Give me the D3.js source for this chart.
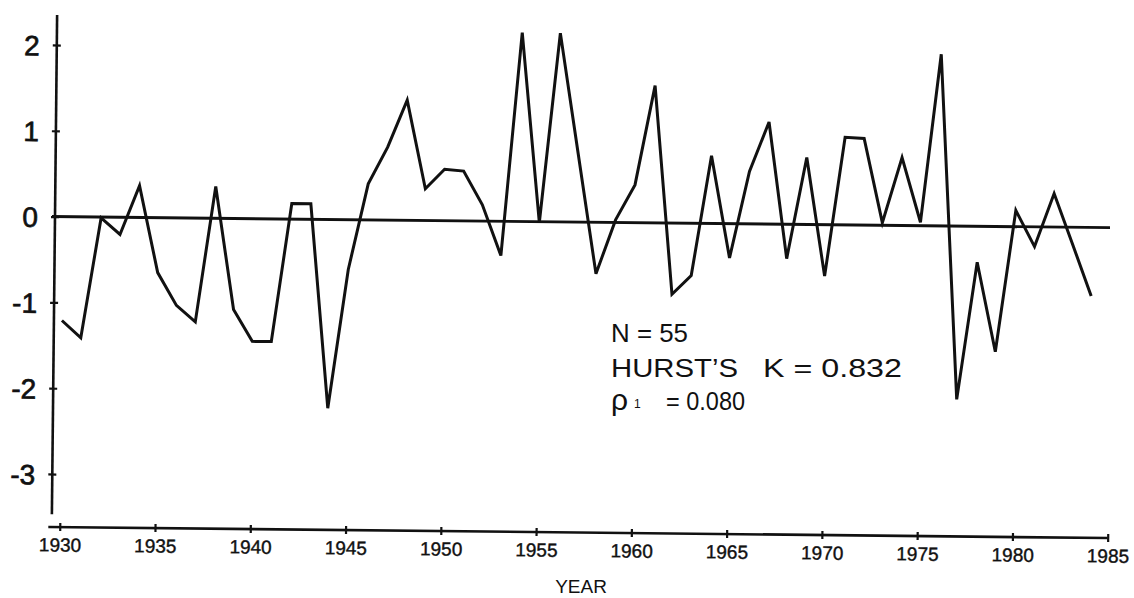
<!DOCTYPE html>
<html>
<head>
<meta charset="utf-8">
<script src="https://cdn.jsdelivr.net/npm/d3@7"></script>
<style>
  html, body { margin: 0; padding: 0; background: #fff; }
  svg { display: block; }
  text { font-family: "Liberation Sans", Arial, sans-serif; fill: #111; }
</style>
</head>
<body>
<svg id="chart" width="1134" height="598"></svg>
<script>
// Annual standardized series, 1930-1984
const years = [
  1930, 1931, 1932, 1933, 1934, 1935, 1936, 1937, 1938, 1939,
  1940, 1941, 1942, 1943, 1944, 1945, 1946, 1947, 1948, 1949,
  1950, 1951, 1952, 1953, 1954, 1955, 1956, 1957, 1958, 1959,
  1960, 1961, 1962, 1963, 1964, 1965, 1966, 1967, 1968, 1969,
  1970, 1971, 1972, 1973, 1974, 1975, 1976, 1977, 1978, 1979,
  1980, 1981, 1982, 1983, 1984
];
const values = [
  -1.21, -1.41, -0.01, -0.20, 0.37, -0.64, -1.02, -1.21, 0.37, -1.06,
  -1.43, -1.43, 0.18, 0.18, -2.20, -0.58, 0.42, 0.85, 1.40, 0.37,
  0.60, 0.58, 0.19, -0.40, 2.20, -0.01, 2.20, 0.80, -0.60, 0.03,
  0.44, 1.60, -0.83, -0.61, 0.79, -0.40, 0.61, 1.19, -0.40, 0.78,
  -0.60, 1.02, 1.01, 0.03, 0.79, 0.04, 2.00, -2.02, -0.42, -1.46,
  0.19, -0.23, 0.39, -0.20, -0.80
];
const yTickValues = [-3, -2, -1, 0, 1, 2];
const xTickValues = [1930, 1935, 1940, 1945, 1950, 1955, 1960, 1965, 1970, 1975, 1980, 1985];
const statLabels = ["N = 55", "HURST\u2019S", "K = 0.832", "= 0.080"];

const svg = d3.select("#chart");

const x = d3.scaleLinear().domain([1930, 1985]).range([63, 1111]);
const y = d3.scaleLinear().domain([-3, 2]).range([474, 45]);
const axisX = 55;        // position of the vertical axis
const axisY = 527;       // position of the horizontal axis

// the plotted sheet sits very slightly turned
const plot = svg.append("g").attr("transform", "rotate(0.6, 55, 217)");

// vertical axis
plot.append("line")
  .attr("x1", axisX).attr("x2", axisX)
  .attr("y1", y(2.35)).attr("y2", y(-3.47))
  .attr("stroke", "#111").attr("stroke-width", 2.6);

const yAxis = plot.append("g")
  .attr("transform", `translate(${axisX},0)`)
  .call(d3.axisLeft(y).tickValues(yTickValues).tickFormat(d3.format("d")).tickSize(4));
yAxis.select(".domain").remove();
yAxis.selectAll(".tick line").attr("x1", -4).attr("x2", 4)
  .attr("stroke", "#111").attr("stroke-width", 2.2);
yAxis.selectAll(".tick text")
  .attr("x", -17).attr("dy", "0.36em")
  .style("font-size", "28px").style("font-family", "'Liberation Sans', Arial, sans-serif")
  .attr("fill", "#111").attr("stroke", "#111").attr("stroke-width", 0.7)
  .text(d => d < 0 ? "-" + Math.abs(d) : d);

// horizontal axis
plot.append("line")
  .attr("x1", x(1929.4)).attr("x2", x(1985))
  .attr("y1", axisY).attr("y2", axisY)
  .attr("stroke", "#111").attr("stroke-width", 2.6);

const xAxis = plot.append("g")
  .attr("transform", `translate(0,${axisY})`)
  .call(d3.axisBottom(x).tickValues(xTickValues).tickFormat(d3.format("d")).tickSize(4));
xAxis.select(".domain").remove();
xAxis.selectAll(".tick line").attr("y1", -4).attr("y2", 4)
  .attr("stroke", "#111").attr("stroke-width", 2.2);
xAxis.selectAll(".tick text")
  .attr("y", 11)
  .style("font-size", "19px").style("font-family", "'Liberation Sans', Arial, sans-serif")
  .attr("fill", "#111").attr("stroke", "#111").attr("stroke-width", 0.4);

// zero reference line
plot.append("line")
  .attr("x1", axisX - 3).attr("x2", x(1984.95))
  .attr("y1", y(0)).attr("y2", y(0))
  .attr("stroke", "#111").attr("stroke-width", 2.9);

// the series
const line = d3.line().x((d, i) => x(years[i])).y(d => y(d));
plot.append("path")
  .datum(values)
  .attr("d", line)
  .attr("fill", "none")
  .attr("stroke", "#111")
  .attr("stroke-width", 3)
  .attr("stroke-linejoin", "miter");

// statistics block
const notes = svg.append("g").style("font-size", "25px");
notes.append("text").attr("x", 611).attr("y", 342)
  .attr("textLength", 77).attr("lengthAdjust", "spacingAndGlyphs").text(statLabels[0]);
notes.append("text").attr("x", 611).attr("y", 377)
  .attr("textLength", 127).attr("lengthAdjust", "spacingAndGlyphs").text(statLabels[1]);
notes.append("text").attr("x", 763).attr("y", 377)
  .attr("textLength", 139).attr("lengthAdjust", "spacingAndGlyphs").text(statLabels[2]);
const rho = notes.append("text").attr("x", 611).attr("y", 410);
rho.append("tspan").style("font-size", "30px").text("\u03C1");
rho.append("tspan").attr("dx", 6).attr("dy", -2).style("font-size", "12px").text("1");
notes.append("text").attr("x", 666).attr("y", 410)
  .attr("textLength", 79).attr("lengthAdjust", "spacingAndGlyphs").text(statLabels[3]);

// axis title
svg.append("text")
  .attr("x", 581).attr("y", 593)
  .attr("text-anchor", "middle")
  .style("font-size", "19px")
  .text("YEAR");
</script>
</body>
</html>
